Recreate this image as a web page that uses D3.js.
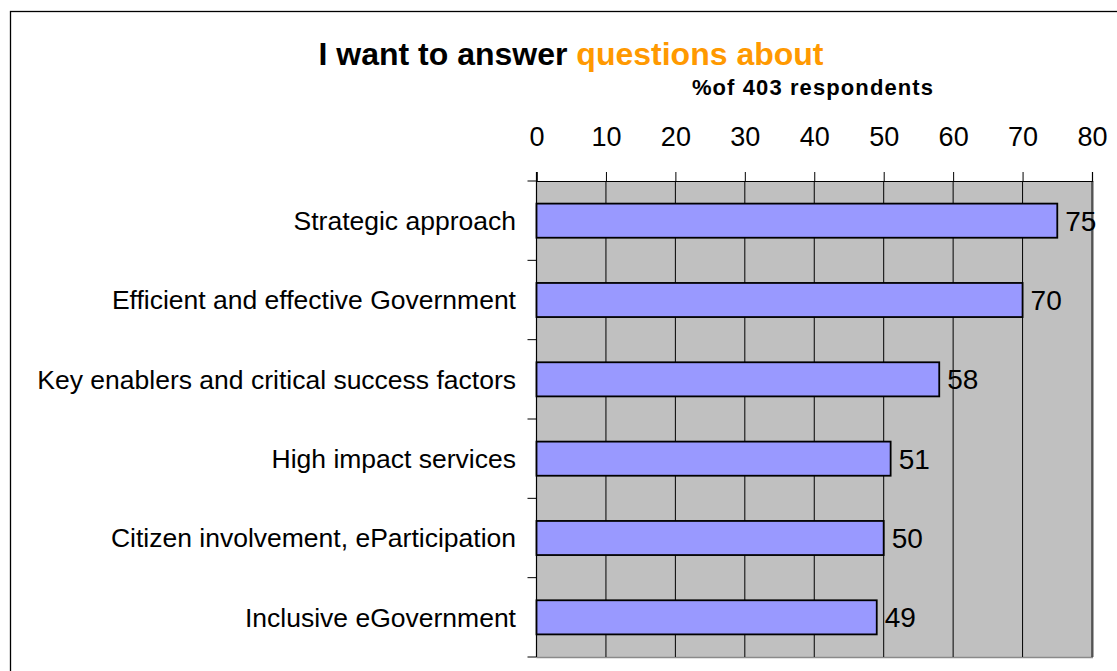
<!DOCTYPE html>
<html>
<head>
<meta charset="utf-8">
<script src="https://cdn.jsdelivr.net/npm/d3@7"></script>
<style>
  html, body { margin: 0; padding: 0; background: #fff; }
  svg { display: block; font-family: "Liberation Sans", Arial, sans-serif; }
</style>
</head>
<body>
<div id="chart"></div>
<script>
const categories = [
  'Strategic approach',
  'Efficient and effective Government',
  'Key enablers and critical success factors',
  'High impact services',
  'Citizen involvement, eParticipation',
  'Inclusive eGovernment'
];
const values = [75, 70, 58, 51, 50, 49];
const tickValues = [0, 10, 20, 30, 40, 50, 60, 70, 80];

const width = 1117, height = 671;
const svg = d3.select('#chart').append('svg').attr('width', width).attr('height', height);

// outer chart border
svg.append('rect')
  .attr('x', 10.5).attr('y', 11.5)
  .attr('width', 1200).attr('height', 800)
  .attr('fill', 'none').attr('stroke', '#000').attr('stroke-width', 1.3);

const plot = { left: 536.5, top: 181, right: 1092, bottom: 657 };

const x = d3.scaleLinear().domain([0, 80]).range([plot.left, plot.right]);
const y = d3.scaleBand().domain(categories).range([plot.top, plot.bottom]).paddingInner(0.57).paddingOuter(0.285);

// title
const title = svg.append('text')
  .attr('x', 571).attr('y', 65)
  .attr('text-anchor', 'middle')
  .style('font-size', '32px').attr('font-weight', 'bold');
title.append('tspan').attr('fill', '#000').text('I want to answer ');
title.append('tspan').attr('fill', '#FF9900').text('questions about');

svg.append('text')
  .attr('x', 813).attr('y', 95)
  .attr('text-anchor', 'middle')
  .style('font-size', '22px').attr('font-weight', 'bold')
  .attr('letter-spacing', '1.1px')
  .text('%of 403 respondents');

// plot background
svg.append('rect')
  .attr('x', plot.left).attr('y', plot.top)
  .attr('width', plot.right - plot.left).attr('height', plot.bottom - plot.top)
  .attr('fill', '#C0C0C0');

// shadow-like bottom / right edge
svg.append('line')
  .attr('x1', plot.left).attr('x2', plot.right + 1)
  .attr('y1', plot.bottom + 0.5).attr('y2', plot.bottom + 0.5)
  .attr('stroke', '#8a8a8a').attr('stroke-width', 1.5);
svg.append('line')
  .attr('x1', plot.right + 1).attr('x2', plot.right + 1)
  .attr('y1', plot.top).attr('y2', plot.bottom)
  .attr('stroke', '#8a8a8a').attr('stroke-width', 1.5);

// vertical gridlines
svg.append('g').selectAll('line')
  .data(tickValues.slice(1))
  .enter().append('line')
  .attr('x1', d => x(d)).attr('x2', d => x(d))
  .attr('y1', plot.top).attr('y2', plot.bottom)
  .attr('stroke', '#000').attr('stroke-width', 1);

// top axis
const xAxis = svg.append('g')
  .attr('transform', 'translate(0,' + plot.top + ')')
  .call(d3.axisTop(x).tickValues(tickValues).tickSize(9).tickPadding(26));
xAxis.select('.domain').attr('stroke', '#000').attr('stroke-width', 1.2);
xAxis.selectAll('.tick line').attr('stroke', '#000');
xAxis.selectAll('text')
  .attr('fill', '#000')
  .style('font-size', '27px')
  .style('font-family', '"Liberation Sans", Arial, sans-serif');

// left axis with ticks at category boundaries
const boundaries = d3.range(categories.length + 1).map(i => plot.top + i * (plot.bottom - plot.top) / categories.length);
svg.append('line')
  .attr('x1', plot.left).attr('x2', plot.left)
  .attr('y1', plot.top - 9).attr('y2', plot.bottom)
  .attr('stroke', '#000').attr('stroke-width', 1.2);
svg.append('g').selectAll('line')
  .data(boundaries)
  .enter().append('line')
  .attr('x1', plot.left - 9).attr('x2', plot.left)
  .attr('y1', d => d).attr('y2', d => d)
  .attr('stroke', '#000');

// category labels
svg.append('g').selectAll('text')
  .data(categories)
  .enter().append('text')
  .attr('x', 516)
  .attr('y', d => y(d) + y.bandwidth() / 2)
  .attr('dy', '0.35em')
  .attr('text-anchor', 'end')
  .style('font-size', '26.5px')
  .text(d => d);

// bars
svg.append('g').selectAll('rect')
  .data(values)
  .enter().append('rect')
  .attr('x', x(0))
  .attr('y', (d, i) => y(categories[i]))
  .attr('width', d => x(d) - x(0))
  .attr('height', y.bandwidth())
  .attr('fill', '#9999FF')
  .attr('stroke', '#000')
  .attr('stroke-width', 1.8);

// value labels
svg.append('g').selectAll('text')
  .data(values)
  .enter().append('text')
  .attr('x', d => x(d) + 8)
  .attr('y', (d, i) => y(categories[i]) + y.bandwidth() / 2)
  .attr('dy', '0.36em')
  .style('font-size', '28px')
  .text(d => d);
</script>
</body>
</html>
